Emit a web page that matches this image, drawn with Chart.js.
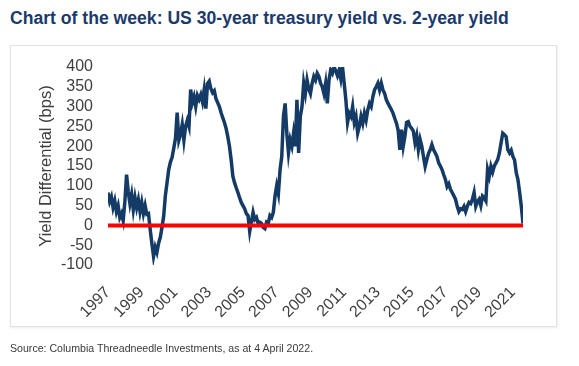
<!DOCTYPE html>
<html>
<head>
<meta charset="utf-8">
<script src="https://cdn.jsdelivr.net/npm/chart.js@4.4.1/dist/chart.umd.min.js"></script>
<style>
  html, body { margin: 0; padding: 0; background: #fff; }
  body { width: 579px; height: 366px; position: relative; overflow: hidden; }
  #title {
    position: absolute; left: 10px; top: 8px;
    font-family: "Liberation Sans Narrow", "Liberation Sans", Arial, sans-serif;
    font-weight: bold; font-size: 17.6px; color: #1b3a6b; white-space: nowrap;
  }
  #frame {
    position: absolute; left: 10px; top: 45px; width: 545px; height: 280px;
    border: 1px solid #e2e2e2; box-shadow: 1px 1px 2px rgba(0,0,0,0.08);
  }
  #wrap { position: absolute; left: 0; top: 0; width: 579px; height: 366px; }
  #source {
    position: absolute; left: 10px; top: 342px;
    font-family: "Liberation Sans", Arial, sans-serif; font-size: 10.6px; color: #3a3a3a;
    white-space: nowrap;
  }
</style>
</head>
<body>
<div id="title">Chart of the week: US 30-year treasury yield vs. 2-year yield</div>
<div id="frame"></div>
<div id="wrap"><canvas id="lineChart" width="579" height="366"></canvas></div>
<div id="source">Source: Columbia Threadneedle Investments, as at 4 April 2022.</div>
<script>
// sampled every ~0.1 year starting 1997, values in bps (30y minus 2y)
var startYear = 1997;
var stepYears = 0.1;
var spread = [
    83, 60, 72, 45, 62, 35, 50, 20, 30, 12,
    60, 128, 85, 55, 78, 40, 70, 45, 65, 35,
    58, 30, 50, 28, 30, -10, -45, -78, -55, -68,
    -45, -30, -5, 23, 75, 108, 141, 160, 172, 195,
    220, 285, 215, 230, 255, 215, 250, 265, 250, 343,
    310, 325, 300, 328, 318, 330, 312, 342, 295, 358,
    364, 345, 335, 340, 320, 310, 300, 285, 272,
    260, 245, 224, 200, 166, 124, 108, 95, 83, 70,
    58, 50, 42, 30, 25, -15, 10, 33, 15, 20,
    5, 8,
    5, -5, -8, 8, 5, 25, 20, 33, 74, 100,
    80, 141, 174, 275, 308, 233, 183, 216, 200, 233,
    200, 317, 183, 275, 300, 359, 333, 367, 345, 333,
    359, 376, 367, 384, 376, 359, 350, 333, 359, 308,
    367, 392, 384, 400, 390, 378, 392, 370, 400, 359,
    317, 260, 283, 275, 300, 260, 275, 233, 250, 275,
    258, 283, 266, 292, 308, 300, 325, 342, 350, 359,
    342, 359, 342, 333, 317, 308, 300, 292, 283, 270,
    258, 240, 191,
    242, 200, 225, 260, 262, 250, 245, 238, 209, 227,
    191, 217, 200, 174, 149, 166, 182, 191, 204, 191,
    183, 174, 158, 150, 141, 128, 116, 98, 105, 91,
    83, 75, 66, 48, 35, 42, 40, 48, 35, 48,
    58, 55, 66, 83, 48, 60, 66, 50, 74, 70,
    62, 141, 124, 149, 135, 150, 158, 166, 183, 208,
    233, 229, 224, 191, 183, 190, 174, 165, 133, 116,
    83, 48, 5
];
var tickYears = [1997, 1999, 2001, 2003, 2005, 2007, 2009, 2011, 2013, 2015, 2017, 2019, 2021];
var yTicks = [-100, -50, 0, 50, 100, 150, 200, 250, 300, 350, 400];

var points = spread.map(function (v, i) {
    return {x: startYear + i * stepYears, y: v};
});
var lastX = points[points.length - 1].x;

var lineData = {
    datasets: [
        {
            label: "zero",
            data: [{x: startYear, y: 0}, {x: lastX, y: 0}],
            borderColor: "#ff0000",
            borderWidth: 4,
            pointRadius: 0,
            order: 0
        },
        {
            label: "30y - 2y",
            data: points,
            borderColor: "#143a66",
            borderWidth: 3.5,
            pointRadius: 0,
            tension: 0,
            order: 1
        }
    ]
};

var tickFont = {family: "'Liberation Sans', Arial, sans-serif", size: 16};

var lineOptions = {
    responsive: false,
    animation: false,
    layout: {padding: {left: 0, top: 67, right: 56, bottom: 0}},
    plugins: {legend: {display: false}, tooltip: {enabled: false}},
    scales: {
        x: {
            type: 'linear',
            min: startYear,
            max: lastX,
            grid: {display: false, drawTicks: false},
            border: {display: false},
            afterBuildTicks: function (scale) {
                scale.ticks = tickYears.map(function (y) { return {value: y}; });
            },
            afterFit: function (scale) { scale.height = 101; },
            ticks: {
                autoSkip: false,
                minRotation: 45,
                maxRotation: 45,
                padding: 18,
                color: "#404040",
                font: tickFont,
                callback: function (v) { return String(v); }
            }
        },
        y: {
            min: -100,
            max: 400,
            grid: {display: false, drawTicks: false},
            border: {display: false},
            afterBuildTicks: function (scale) {
                scale.ticks = yTicks.map(function (v) { return {value: v}; });
            },
            afterFit: function (scale) { scale.width = 108; },
            ticks: {
                autoSkip: false,
                padding: 15,
                color: "#404040",
                font: tickFont,
                callback: function (v) { return String(v); }
            },
            title: {
                display: true,
                text: "Yield Differential (bps)",
                color: "#404040",
                font: {family: "'Liberation Sans', Arial, sans-serif", size: 16.5},
                padding: {top: 37, bottom: 0}
            }
        }
    }
};

var ctx = document.getElementById("lineChart").getContext("2d");
new Chart(ctx, {type: 'line', data: lineData, options: lineOptions});
</script>
</body>
</html>
